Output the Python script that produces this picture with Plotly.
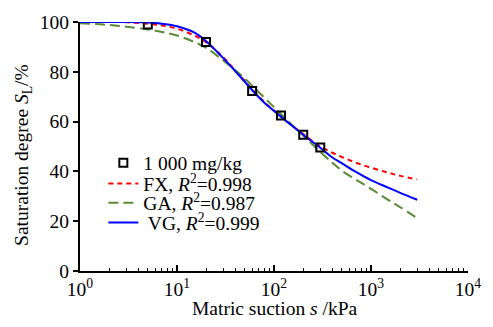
import plotly.graph_objects as go

# ---- data ----
s_meas = [5.0, 19.9, 59.5, 118, 200, 300]
S_meas = [99.0, 92.0, 72.3, 62.5, 54.7, 49.6]

s_fit = [1, 2, 3, 5, 7, 10, 15, 20, 30, 40, 50, 60, 80, 100, 150, 200, 300,
         400, 500, 700, 1000, 1500, 2000, 3000]
S_fx = [100, 100, 99.9, 99.3, 98.6, 97.3, 94.6, 91.8, 85.8, 80.5, 76.3, 72.8,
        67.8, 64.5, 58.8, 55.0, 50.0, 47.5, 45.8, 43.5, 41.5, 39.5, 38.2, 36.8]
S_ga = [99.5, 98.8, 98.1, 97.0, 96.0, 94.6, 92.0, 89.6, 84.6, 80.6, 77.3, 74.3,
        69.5, 65.8, 59.0, 54.4, 47.8, 43.5, 40.3, 36.7, 33.0, 28.6, 25.6, 21.2]
S_vg = [100, 100, 100, 99.8, 99.3, 98.3, 95.8, 92.3, 85.5, 80.2, 76.0, 72.5,
        67.5, 64.3, 58.6, 54.7, 49.5, 45.6, 43.3, 39.8, 36.5, 33.5, 31.4, 28.6]

x_tickvals = [1, 10, 100, 1000, 10000]
x_ticktext = ["10<sup>0</sup>", "10<sup>1</sup>", "10<sup>2</sup>",
              "10<sup>3</sup>", "10<sup>4</sup>"]
y_tickvals = [0, 20, 40, 60, 80, 100]

names = ["1 000 mg/kg",
         "FX, <i>R</i><sup>2</sup>=0.998",
         "GA, <i>R</i><sup>2</sup>=0.987",
         " VG, <i>R</i><sup>2</sup>=0.999"]

FONT = "Liberation Serif, Times New Roman, serif"

fig = go.Figure()
fig.add_trace(go.Scatter(x=s_fit, y=S_fx, mode="lines", name=names[1],
                         line=dict(color="#FF0000", width=2, dash="5px,4px", shape="spline"),
                         legend="legend2"))
fig.add_trace(go.Scatter(x=s_fit, y=S_ga, mode="lines", name=names[2],
                         line=dict(color="#5A8A35", width=2, dash="10px,5px", shape="spline"),
                         legend="legend3"))
fig.add_trace(go.Scatter(x=s_fit, y=S_vg, mode="lines", name=names[3],
                         line=dict(color="#0000FF", width=2, shape="spline"),
                         legend="legend4"))
fig.add_trace(go.Scatter(x=s_meas, y=S_meas, mode="markers", name=names[0],
                         marker=dict(symbol="square-open", size=8, color="black",
                                     line=dict(width=2, color="black")),
                         legend="legend"))

# plot area in px: x 80..479, y 19.5..270.7
W, H = 493, 327
L, R, T, B = 80, 479, 19.5, 270.7
pw, ph = R - L, B - T

def py(ypx):
    return (B - ypx) / ph

def px(xpx):
    return (xpx - L) / pw

leg_common = dict(font=dict(family=FONT, size=19.5, color="black"),
                  bgcolor="rgba(0,0,0,0)", borderwidth=0,
                  xanchor="left", yanchor="middle", x=px(104))
legend_y = [161.7, 182.7, 202.3, 222.0]

fig.update_layout(
    width=W, height=H,
    margin=dict(l=L, r=W - R, t=T, b=H - B, pad=0),
    paper_bgcolor="white", plot_bgcolor="white",
    font=dict(family=FONT, size=19, color="black"),
    showlegend=True,
    legend=dict(y=py(legend_y[0]), **leg_common),
    legend2=dict(y=py(legend_y[1]), **leg_common),
    legend3=dict(y=py(legend_y[2]), **leg_common),
    legend4=dict(y=py(legend_y[3]), **leg_common),
    xaxis=dict(type="log", range=[0, 4], tickvals=x_tickvals, ticktext=x_ticktext,
               ticks="inside", ticklen=6, tickwidth=1.5, tickcolor="black",
               showline=True, linewidth=2, linecolor="black",
               showgrid=False, zeroline=False,
               tickfont=dict(family=FONT, size=19.5, color="black"),
               minor=dict(ticks="inside", ticklen=3, tickwidth=1.2, tickcolor="black",
                          dtick="D1", showgrid=False)),
    yaxis=dict(range=[0, 100], tickvals=y_tickvals,
               ticks="outside", ticklen=5, tickwidth=1.5, tickcolor="black",
               showline=True, linewidth=2, linecolor="black",
               showgrid=False, zeroline=False,
               tickfont=dict(family=FONT, size=19.5, color="black")),
    annotations=[
        dict(text="Saturation degree <i>S</i><sub>L</sub>/%", xref="paper", yref="paper",
             x=px(22), y=py(154), textangle=-90, showarrow=False,
             xanchor="center", yanchor="middle",
             font=dict(family=FONT, size=19.5, color="black")),
        dict(text="Matric suction <i>s</i> /kPa", xref="paper", yref="paper",
             x=px(281), y=py(309), showarrow=False,
             xanchor="center", yanchor="middle",
             font=dict(family=FONT, size=19.5, color="black")),
    ],
)

fig.write_html("out.html")
